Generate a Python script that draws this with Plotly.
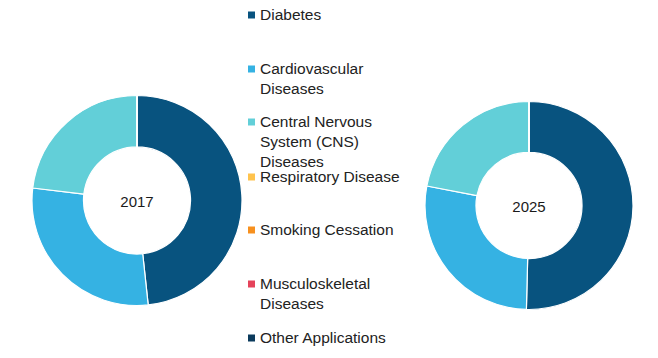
import plotly.graph_objects as go

OFF = 8  # default page body margin
W, H = 658 - OFF, 358 - OFF

categories = ["Diabetes", "Cardiovascular Diseases", "Central Nervous System (CNS) Diseases",
              "Respiratory Disease", "Smoking Cessation", "Musculoskeletal Diseases", "Other Applications"]
legend_text = ["Diabetes", "Cardiovascular<br>Diseases", "Central Nervous<br>System (CNS)<br>Diseases",
               "Respiratory Disease", "Smoking Cessation", "Musculoskeletal<br>Diseases", "Other Applications"]
colors = ["#08537F", "#35B2E3", "#62CFD8", "#FFC34D", "#F7901E", "#E5435A", "#0B3A5C"]
values_2017 = [48.3, 28.6, 23.1, 0, 0, 0, 0]
values_2025 = [50.4, 27.6, 22.0, 0, 0, 0, 0]
years = ["2017", "2025"]


def px_x(x):
    return (x - OFF) / W


def px_y(y):
    return 1 - (y - OFF) / H


fig = go.Figure()
domains = [
    dict(x=[px_x(32), px_x(242)], y=[px_y(306), px_y(95)]),
    dict(x=[px_x(425), px_x(633)], y=[px_y(310), px_y(101)]),
]
for vals, dom, yr in zip([values_2017, values_2025], domains, years):
    fig.add_trace(go.Pie(
        labels=categories, values=vals, domain=dom, hole=0.51,
        sort=False, direction="clockwise", rotation=0,
        marker=dict(colors=colors, line=dict(color="white", width=1.2)),
        textinfo="none", hoverinfo="label+percent", showlegend=False,
        title=dict(text=yr, font=dict(family="Liberation Sans, Arial, sans-serif", size=15, color="#1a1a1a")),
    ))

# custom legend
leg_y = [15, 69, 122, 177, 230, 284, 338]
shapes = []
annotations = []
for txt, col, yc in zip(legend_text, colors, leg_y):
    shapes.append(dict(type="rect", xref="paper", yref="paper",
                       x0=px_x(248), x1=px_x(255), y0=px_y(yc + 3.5), y1=px_y(yc - 3.5),
                       fillcolor=col, line=dict(width=0)))
    annotations.append(dict(text=txt, xref="paper", yref="paper", x=px_x(258), y=px_y(yc - 10.75),
                            xanchor="left", yanchor="top", align="left", showarrow=False,
                            font=dict(family="Liberation Sans, Arial, sans-serif", size=15.5, color="#222222")))

fig.update_layout(
    width=W, height=H, margin=dict(l=0, r=0, t=0, b=0),
    paper_bgcolor="white", plot_bgcolor="white",
    shapes=shapes, annotations=annotations,
)
fig.write_html("out.html")
